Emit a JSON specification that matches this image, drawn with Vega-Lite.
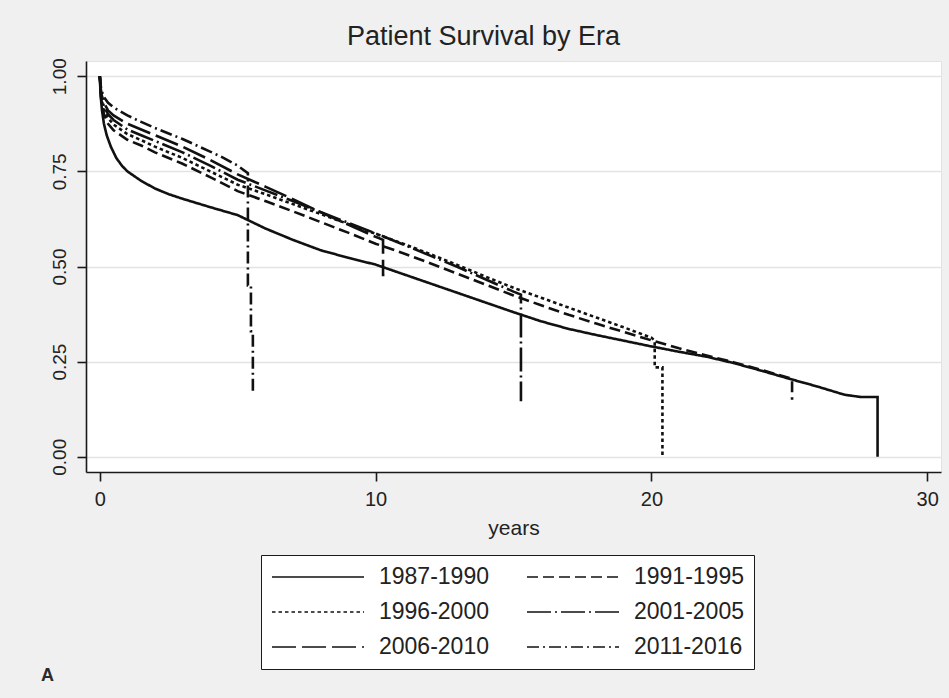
{
  "$schema": "https://vega.github.io/schema/vega-lite/v6.json",
  "width": 855,
  "height": 411,
  "autosize": {"type": "none"},
  "padding": {"left": 86, "top": 61, "right": 8, "bottom": 226},
  "background": "#f0f0f0",
  "config": {
    "font": "Liberation Sans",
    "view": {"fill": "white", "stroke": "#e2e2e2", "strokeWidth": 1},
    "axis": {
      "domainColor": "#1a1a1a",
      "domainWidth": 1.6,
      "tickColor": "#1a1a1a",
      "tickWidth": 1.6,
      "tickSize": 9,
      "labelColor": "#222",
      "labelFont": "Liberation Sans",
      "titleFont": "Liberation Sans",
      "titleColor": "#222",
      "titleFontWeight": "normal"
    },
    "legend": {
      "strokeColor": "#1a1a1a",
      "fillColor": "white",
      "padding": 10
    }
  },
  "title": {
    "text": "Patient Survival by Era",
    "fontSize": 27,
    "fontWeight": "normal",
    "color": "#222",
    "font": "Liberation Sans",
    "anchor": "middle",
    "dx": -30,
    "offset": 7
  },
  "datasets": {
    "km": [
      {"era": "1987-1990", "t": 0, "s": 1},
      {"era": "1987-1990", "t": 0.03, "s": 0.95},
      {"era": "1987-1990", "t": 0.08, "s": 0.91},
      {"era": "1987-1990", "t": 0.15, "s": 0.875},
      {"era": "1987-1990", "t": 0.25, "s": 0.845},
      {"era": "1987-1990", "t": 0.4, "s": 0.815},
      {"era": "1987-1990", "t": 0.6, "s": 0.785},
      {"era": "1987-1990", "t": 0.8, "s": 0.765},
      {"era": "1987-1990", "t": 1, "s": 0.75},
      {"era": "1987-1990", "t": 1.5, "s": 0.725},
      {"era": "1987-1990", "t": 2, "s": 0.705},
      {"era": "1987-1990", "t": 2.5, "s": 0.69},
      {"era": "1987-1990", "t": 3, "s": 0.678},
      {"era": "1987-1990", "t": 4, "s": 0.656},
      {"era": "1987-1990", "t": 5, "s": 0.635},
      {"era": "1987-1990", "t": 6, "s": 0.6},
      {"era": "1987-1990", "t": 7, "s": 0.57},
      {"era": "1987-1990", "t": 8, "s": 0.543},
      {"era": "1987-1990", "t": 9, "s": 0.523},
      {"era": "1987-1990", "t": 10, "s": 0.505},
      {"era": "1987-1990", "t": 11, "s": 0.48},
      {"era": "1987-1990", "t": 12, "s": 0.455},
      {"era": "1987-1990", "t": 13, "s": 0.43},
      {"era": "1987-1990", "t": 14, "s": 0.405},
      {"era": "1987-1990", "t": 15, "s": 0.38},
      {"era": "1987-1990", "t": 16, "s": 0.356},
      {"era": "1987-1990", "t": 17, "s": 0.336},
      {"era": "1987-1990", "t": 18, "s": 0.32},
      {"era": "1987-1990", "t": 19, "s": 0.305},
      {"era": "1987-1990", "t": 20, "s": 0.29},
      {"era": "1987-1990", "t": 21, "s": 0.276},
      {"era": "1987-1990", "t": 22, "s": 0.263},
      {"era": "1987-1990", "t": 23, "s": 0.246},
      {"era": "1987-1990", "t": 24, "s": 0.226},
      {"era": "1987-1990", "t": 25, "s": 0.205},
      {"era": "1987-1990", "t": 26, "s": 0.185},
      {"era": "1987-1990", "t": 27, "s": 0.163},
      {"era": "1987-1990", "t": 27.6, "s": 0.157},
      {"era": "1987-1990", "t": 28.2, "s": 0.157},
      {"era": "1987-1990", "t": 28.2, "s": 0},

      {"era": "1991-1995", "t": 0, "s": 1},
      {"era": "1991-1995", "t": 0.05, "s": 0.94},
      {"era": "1991-1995", "t": 0.15, "s": 0.9},
      {"era": "1991-1995", "t": 0.3, "s": 0.875},
      {"era": "1991-1995", "t": 0.5, "s": 0.858},
      {"era": "1991-1995", "t": 1, "s": 0.833},
      {"era": "1991-1995", "t": 1.5, "s": 0.818},
      {"era": "1991-1995", "t": 2, "s": 0.8},
      {"era": "1991-1995", "t": 3, "s": 0.77},
      {"era": "1991-1995", "t": 4, "s": 0.735},
      {"era": "1991-1995", "t": 5, "s": 0.698},
      {"era": "1991-1995", "t": 6, "s": 0.672},
      {"era": "1991-1995", "t": 7, "s": 0.645},
      {"era": "1991-1995", "t": 8, "s": 0.617},
      {"era": "1991-1995", "t": 9, "s": 0.589},
      {"era": "1991-1995", "t": 10, "s": 0.56},
      {"era": "1991-1995", "t": 11, "s": 0.535},
      {"era": "1991-1995", "t": 12, "s": 0.508},
      {"era": "1991-1995", "t": 13, "s": 0.48},
      {"era": "1991-1995", "t": 14, "s": 0.452},
      {"era": "1991-1995", "t": 15, "s": 0.424},
      {"era": "1991-1995", "t": 16, "s": 0.398},
      {"era": "1991-1995", "t": 17, "s": 0.373},
      {"era": "1991-1995", "t": 18, "s": 0.35},
      {"era": "1991-1995", "t": 19, "s": 0.328},
      {"era": "1991-1995", "t": 20, "s": 0.306},
      {"era": "1991-1995", "t": 21, "s": 0.285},
      {"era": "1991-1995", "t": 22, "s": 0.266},
      {"era": "1991-1995", "t": 23, "s": 0.248},
      {"era": "1991-1995", "t": 24, "s": 0.228},
      {"era": "1991-1995", "t": 25, "s": 0.207},
      {"era": "1991-1995", "t": 25.1, "s": 0.205},
      {"era": "1991-1995", "t": 25.1, "s": 0.15},

      {"era": "1996-2000", "t": 0, "s": 1},
      {"era": "1996-2000", "t": 0.05, "s": 0.945},
      {"era": "1996-2000", "t": 0.15, "s": 0.91},
      {"era": "1996-2000", "t": 0.3, "s": 0.89},
      {"era": "1996-2000", "t": 0.5, "s": 0.873},
      {"era": "1996-2000", "t": 1, "s": 0.848},
      {"era": "1996-2000", "t": 1.5, "s": 0.832},
      {"era": "1996-2000", "t": 2, "s": 0.815},
      {"era": "1996-2000", "t": 3, "s": 0.785},
      {"era": "1996-2000", "t": 4, "s": 0.75},
      {"era": "1996-2000", "t": 5, "s": 0.715},
      {"era": "1996-2000", "t": 6, "s": 0.69},
      {"era": "1996-2000", "t": 7, "s": 0.664},
      {"era": "1996-2000", "t": 8, "s": 0.638},
      {"era": "1996-2000", "t": 9, "s": 0.612},
      {"era": "1996-2000", "t": 10, "s": 0.586},
      {"era": "1996-2000", "t": 11, "s": 0.56},
      {"era": "1996-2000", "t": 12, "s": 0.532},
      {"era": "1996-2000", "t": 13, "s": 0.503},
      {"era": "1996-2000", "t": 14, "s": 0.473},
      {"era": "1996-2000", "t": 15, "s": 0.444},
      {"era": "1996-2000", "t": 16, "s": 0.418},
      {"era": "1996-2000", "t": 17, "s": 0.392},
      {"era": "1996-2000", "t": 18, "s": 0.366},
      {"era": "1996-2000", "t": 19, "s": 0.34},
      {"era": "1996-2000", "t": 20, "s": 0.313},
      {"era": "1996-2000", "t": 20.12, "s": 0.305},
      {"era": "1996-2000", "t": 20.12, "s": 0.235},
      {"era": "1996-2000", "t": 20.4, "s": 0.235},
      {"era": "1996-2000", "t": 20.4, "s": 0},

      {"era": "2001-2005", "t": 0, "s": 1},
      {"era": "2001-2005", "t": 0.05, "s": 0.95},
      {"era": "2001-2005", "t": 0.15, "s": 0.92},
      {"era": "2001-2005", "t": 0.3, "s": 0.9},
      {"era": "2001-2005", "t": 0.5, "s": 0.885},
      {"era": "2001-2005", "t": 1, "s": 0.86},
      {"era": "2001-2005", "t": 1.5, "s": 0.845},
      {"era": "2001-2005", "t": 2, "s": 0.83},
      {"era": "2001-2005", "t": 3, "s": 0.8},
      {"era": "2001-2005", "t": 4, "s": 0.765},
      {"era": "2001-2005", "t": 5, "s": 0.728},
      {"era": "2001-2005", "t": 6, "s": 0.7},
      {"era": "2001-2005", "t": 7, "s": 0.672},
      {"era": "2001-2005", "t": 8, "s": 0.643},
      {"era": "2001-2005", "t": 9, "s": 0.615},
      {"era": "2001-2005", "t": 10, "s": 0.587},
      {"era": "2001-2005", "t": 11, "s": 0.558},
      {"era": "2001-2005", "t": 12, "s": 0.528},
      {"era": "2001-2005", "t": 13, "s": 0.498},
      {"era": "2001-2005", "t": 14, "s": 0.466},
      {"era": "2001-2005", "t": 15, "s": 0.434},
      {"era": "2001-2005", "t": 15.27, "s": 0.426},
      {"era": "2001-2005", "t": 15.27, "s": 0.146},

      {"era": "2006-2010", "t": 0, "s": 1},
      {"era": "2006-2010", "t": 0.05, "s": 0.955},
      {"era": "2006-2010", "t": 0.15, "s": 0.93},
      {"era": "2006-2010", "t": 0.3, "s": 0.91},
      {"era": "2006-2010", "t": 0.5, "s": 0.897},
      {"era": "2006-2010", "t": 1, "s": 0.875},
      {"era": "2006-2010", "t": 1.5, "s": 0.86},
      {"era": "2006-2010", "t": 2, "s": 0.845},
      {"era": "2006-2010", "t": 3, "s": 0.815},
      {"era": "2006-2010", "t": 4, "s": 0.78},
      {"era": "2006-2010", "t": 5, "s": 0.742},
      {"era": "2006-2010", "t": 6, "s": 0.71},
      {"era": "2006-2010", "t": 7, "s": 0.677},
      {"era": "2006-2010", "t": 8, "s": 0.643},
      {"era": "2006-2010", "t": 9, "s": 0.61},
      {"era": "2006-2010", "t": 10, "s": 0.578},
      {"era": "2006-2010", "t": 10.27, "s": 0.57},
      {"era": "2006-2010", "t": 10.27, "s": 0.478},
      {"era": "2006-2010", "t": 10.32, "s": 0.478},

      {"era": "2011-2016", "t": 0, "s": 1},
      {"era": "2011-2016", "t": 0.05, "s": 0.965},
      {"era": "2011-2016", "t": 0.15, "s": 0.945},
      {"era": "2011-2016", "t": 0.3, "s": 0.93},
      {"era": "2011-2016", "t": 0.5, "s": 0.918},
      {"era": "2011-2016", "t": 1, "s": 0.897},
      {"era": "2011-2016", "t": 1.5, "s": 0.88},
      {"era": "2011-2016", "t": 2, "s": 0.864},
      {"era": "2011-2016", "t": 3, "s": 0.835},
      {"era": "2011-2016", "t": 4, "s": 0.802},
      {"era": "2011-2016", "t": 4.5, "s": 0.785},
      {"era": "2011-2016", "t": 5, "s": 0.765},
      {"era": "2011-2016", "t": 5.37, "s": 0.745},
      {"era": "2011-2016", "t": 5.37, "s": 0.45},
      {"era": "2011-2016", "t": 5.48, "s": 0.45},
      {"era": "2011-2016", "t": 5.48, "s": 0.33},
      {"era": "2011-2016", "t": 5.55, "s": 0.33},
      {"era": "2011-2016", "t": 5.55, "s": 0.17},
      {"era": "2011-2016", "t": 5.62, "s": 0.17}
    ],
    "panel": [{"tag": "A"}]
  },
  "layer": [
    {
      "data": {"name": "km"},
      "mark": {"type": "line", "color": "#111", "strokeWidth": 2.6, "clip": true},
      "encoding": {
        "x": {
          "field": "t",
          "type": "quantitative",
          "scale": {"domain": [-0.5, 30.5], "nice": false, "zero": false},
          "axis": {
            "values": [0, 10, 20, 30],
            "grid": false,
            "labelFontSize": 20,
            "labelPadding": 8,
            "title": "years",
            "titleFontSize": 21,
            "titlePadding": 8
          }
        },
        "y": {
          "field": "s",
          "type": "quantitative",
          "scale": {"domain": [-0.04, 1.04], "nice": false},
          "axis": {
            "values": [0, 0.25, 0.5, 0.75, 1],
            "format": ".2f",
            "title": null,
            "grid": true,
            "gridColor": "#e3e3e3",
            "gridWidth": 1.5,
            "labelAngle": -90,
            "labelAlign": "center",
            "labelBaseline": "alphabetic",
            "labelFontSize": 19,
            "labelPadding": 12
          }
        },
        "strokeDash": {
          "field": "era",
          "type": "nominal",
          "scale": {
            "domain": ["1987-1990", "1991-1995", "1996-2000", "2001-2005", "2006-2010", "2011-2016"],
            "range": [[1, 0], [11, 5], [3.5, 3], [24, 4, 2, 4], [24, 6], [12, 4, 2, 4]]
          },
          "legend": {
            "orient": "none",
            "legendX": 175,
            "legendY": 494,
            "title": null,
            "direction": "horizontal",
            "columns": 2,
            "symbolType": "stroke",
            "symbolSize": 8464,
            "symbolStrokeWidth": 1.6,
            "symbolStrokeColor": "#111",
            "labelFontSize": 23,
            "labelColor": "#222",
            "labelOffset": 14,
            "labelLimit": 300,
            "columnPadding": 37,
            "rowPadding": 11,
            "clipHeight": 24
          }
        },
        "order": [
          {"field": "t", "type": "quantitative"},
          {"field": "s", "type": "quantitative", "sort": "descending"}
        ]
      }
    },
    {
      "data": {"name": "panel"},
      "mark": {"type": "text", "fontSize": 18, "fontWeight": "bold", "color": "#2a2a2a", "align": "center", "baseline": "middle"},
      "encoding": {
        "x": {"datum": -1.9},
        "y": {"datum": -0.575},
        "text": {"field": "tag"}
      }
    }
  ]
}
